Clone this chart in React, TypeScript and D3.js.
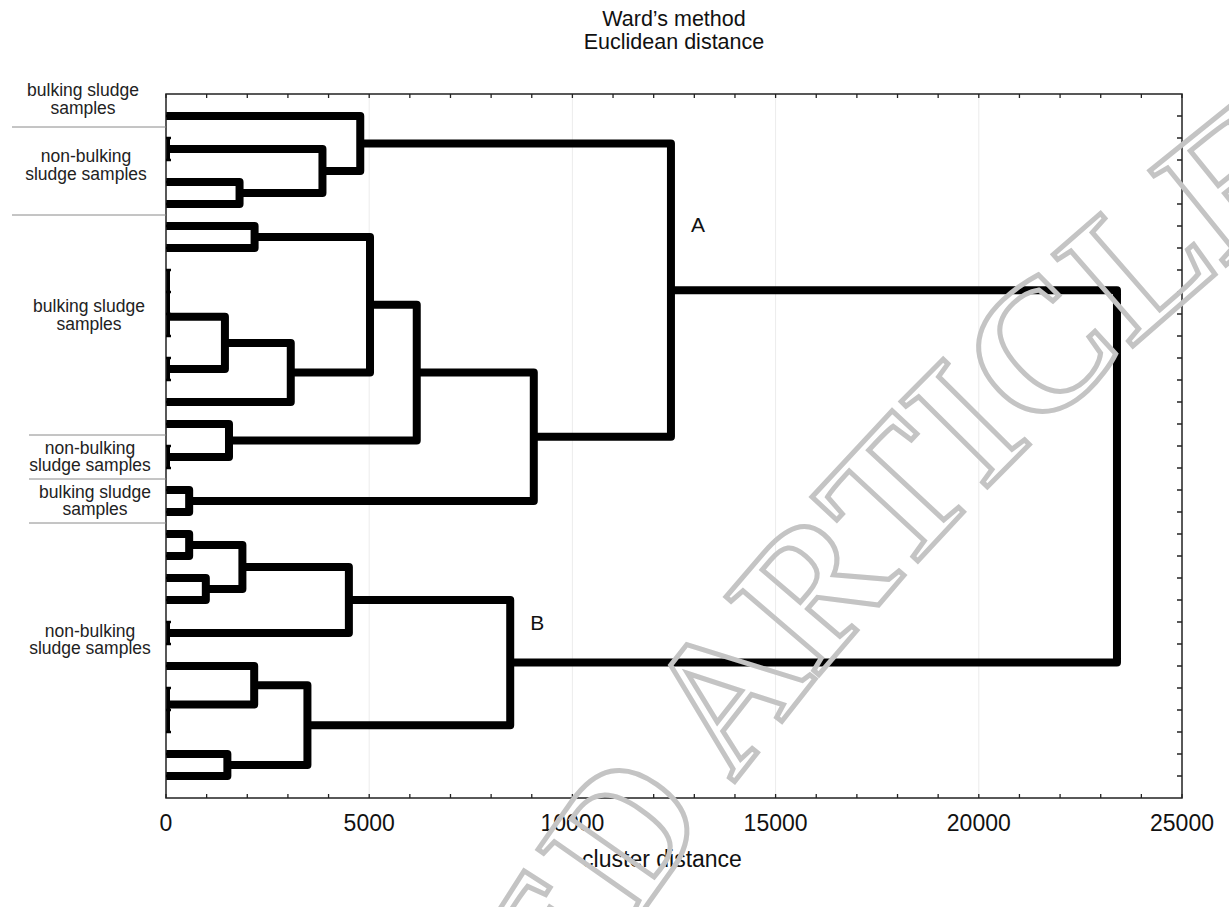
import React from "react";
import * as d3 from "d3";

// ---- data ----
const leafCount = 31;
// linkage table: node ids 0..30 are leaves, merge k creates node 31+k
const mergeA = [1, 3, 31, 0, 5, 7, 36, 37, 11, 38, 40, 35, 15, 14, 42, 17, 45, 34, 19, 21, 49, 23, 51, 27, 26, 25, 29, 56, 53, 48];
const mergeB = [2, 4, 32, 33, 6, 8, 9, 10, 12, 39, 13, 41, 16, 43, 44, 18, 46, 47, 20, 22, 50, 24, 52, 28, 54, 55, 30, 57, 58, 59];
const mergeHeight = [0, 1810, 3850, 4780, 2180, 0, 0, 0, 0, 1450, 3070, 5020, 0, 1550, 6170, 570, 9050, 12425, 570, 980, 1880, 0, 4500, 0, 0, 2170, 1510, 3480, 8470, 23400];
const xTickValues = [0, 5000, 10000, 15000, 20000, 25000];
const groupNames = ["bulking sludge\nsamples", "non-bulking\nsludge samples", "bulking sludge\nsamples", "non-bulking\nsludge samples", "bulking sludge\nsamples", "non-bulking\nsludge samples"];
const groupFirstLeaf = [0, 1, 5, 15, 17, 19];
const groupLastLeaf = [0, 4, 14, 16, 18, 30];
const clusterNames = ["A", "B"];
const clusterNodes = [48, 59];
const titleLines = ["Ward\u2019s method", "Euclidean distance"];
const xAxisTitle = "cluster distance";
const watermark = "RETRACTED ARTICLE";

// ---- layout ----
const W = 1229, H = 907;
const L = 166, R = 1182, T = 94, B = 798;
const labelCenterLeaf = [-0.8, 2.2, 9.0, 15.45, 17.45, 23.75];
const labelCenterX = [83, 86, 89, 90, 95, 90];
const sepStartX = [12, 12, 29, 29, 29];
const FONT = "'Liberation Sans', Arial, Helvetica, sans-serif";

export default function App() {
  const x = d3.scaleLinear().domain([0, 25000]).range([L, R]);
  const y = d3.scaleLinear().domain([-1, leafCount]).range([T, B]);

  const nodeY: number[] = [];
  const nodeH: number[] = [];
  for (let i = 0; i < leafCount; i++) { nodeY.push(y(i)); nodeH.push(0); }
  const paths: string[] = [];
  mergeA.forEach((a, k) => {
    const b = mergeB[k];
    const h = mergeHeight[k];
    const p = d3.path();
    p.moveTo(x(nodeH[a]), nodeY[a]);
    p.lineTo(x(h), nodeY[a]);
    p.lineTo(x(h), nodeY[b]);
    p.lineTo(x(nodeH[b]), nodeY[b]);
    paths.push(p.toString());
    nodeY.push((nodeY[a] + nodeY[b]) / 2);
    nodeH.push(h);
  });

  const minorTicks = d3.range(0, 25001, 1000);
  const leaves = d3.range(leafCount);

  return (
    <svg width={W} height={H} style={{ position: "absolute", left: 0, top: 0, background: "#fff" }} fontFamily={FONT}>
      <defs>
        <clipPath id="plotClip"><rect x={L} y={T} width={R - L} height={B - T} /></clipPath>
        <path id="wmPath" d="M 420 1300 Q 740 640 1320 190" fill="none" />
      </defs>
      <rect x={0} y={0} width={W} height={H} fill="#fff" />
      {/* title */}
      {titleLines.map((t, i) => (
        <text key={t} x={(L + R) / 2} y={26 + i * 23} textAnchor="middle" fontSize={21.5} fill="#111">{t}</text>
      ))}
      {/* grid */}
      {xTickValues.slice(1, -1).map((v) => (
        <line key={v} x1={x(v)} x2={x(v)} y1={T} y2={B} stroke="#ececec" strokeWidth={1} />
      ))}
      {/* dendrogram */}
      <g clipPath="url(#plotClip)">
        {paths.map((d, i) => (
          <path key={i} d={d} fill="none" stroke="#000" strokeWidth={8} strokeLinejoin="round" />
        ))}
      </g>
      {/* frame */}
      <rect x={L} y={T} width={R - L} height={B - T} fill="none" stroke="#222" strokeWidth={1.5} />
      {/* ticks */}
      {minorTicks.map((v) => (
        <g key={v}>
          <line x1={x(v)} x2={x(v)} y1={B} y2={B - 4} stroke="#222" strokeWidth={1.3} />
          <line x1={x(v)} x2={x(v)} y1={T} y2={T + 4} stroke="#222" strokeWidth={1.3} />
        </g>
      ))}
      {leaves.map((i) => (
        <g key={i}>
          <line x1={R} x2={R - 5} y1={y(i)} y2={y(i)} stroke="#222" strokeWidth={1.5} />
          <line x1={L} x2={L + 5} y1={y(i)} y2={y(i)} stroke="#000" strokeWidth={2.5} />
        </g>
      ))}
      {/* x tick labels */}
      {xTickValues.map((v) => (
        <text key={v} x={x(v)} y={831} textAnchor="middle" fontSize={23} fill="#111">{v}</text>
      ))}
      <text x={662} y={867} textAnchor="middle" fontSize={23} fill="#111">{xAxisTitle}</text>
      {/* cluster letters */}
      {clusterNames.map((n, i) => (
        <text key={n} x={x(nodeH[clusterNodes[i]]) + 27} y={nodeY[clusterNodes[i]] - (i === 0 ? 58 : 33)} textAnchor="middle" fontSize={21} fill="#111">{n}</text>
      ))}
      {/* group labels */}
      {groupNames.map((g, i) => {
        const cy = y(labelCenterLeaf[i]);
        const lines = g.split("\n");
        return (
          <text key={i} x={labelCenterX[i]} textAnchor="middle" fontSize={17.5} fill="#222">
            {lines.map((ln, j) => (
              <tspan key={j} x={labelCenterX[i]} y={cy - 2 + j * 17.5}>{ln}</tspan>
            ))}
          </text>
        );
      })}
      {groupLastLeaf.slice(0, -1).map((last, i) => (
        <line key={i} x1={sepStartX[i]} x2={L} y1={y(last + 0.5)} y2={y(last + 0.5)} stroke="#8a8a8a" strokeWidth={1} />
      ))}
      {/* watermark */}
      <text fontFamily="'Liberation Serif', 'DejaVu Serif', serif" fontWeight="bold" fontSize={185} fill="none" stroke="#c4c4c4" strokeWidth={5}>
        <textPath href="#wmPath" startOffset="100%" textAnchor="end">{watermark}</textPath>
      </text>
    </svg>
  );
}
